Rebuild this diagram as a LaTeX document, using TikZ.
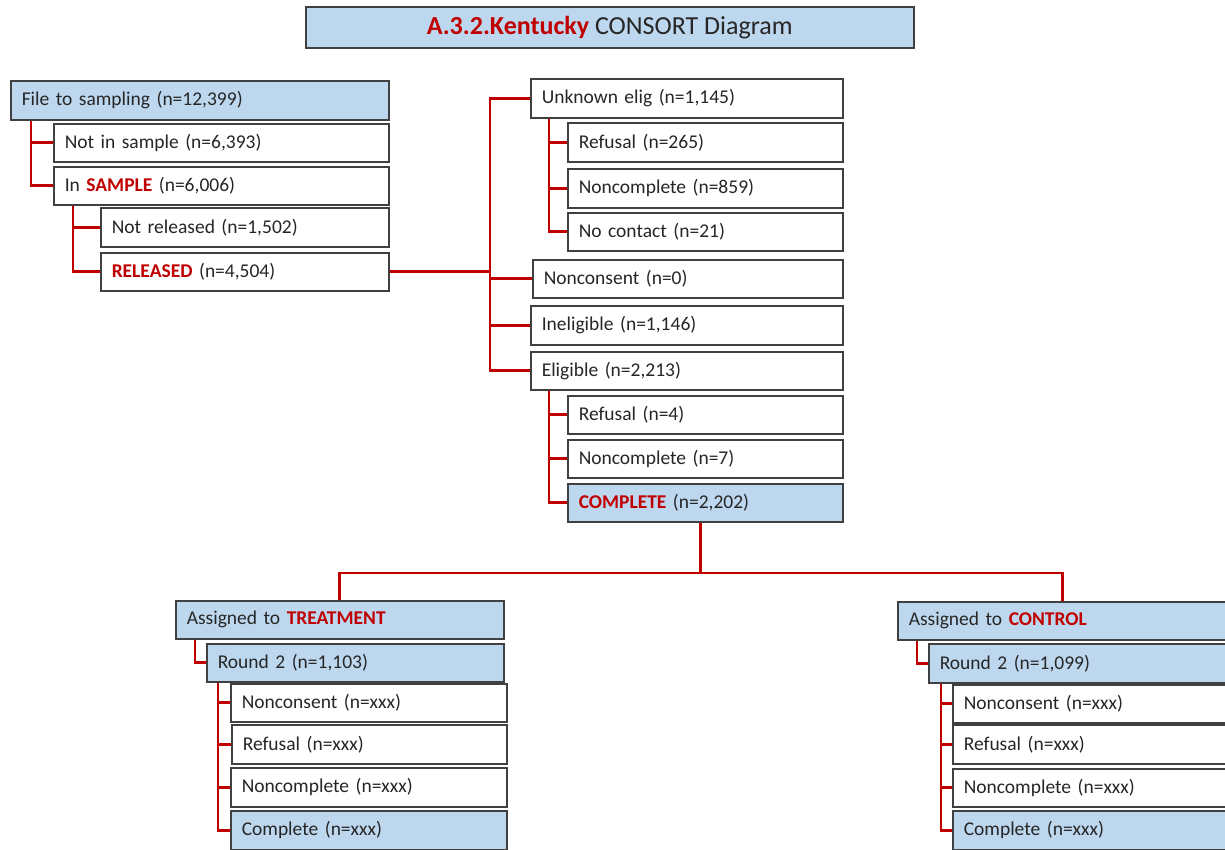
\documentclass[tikz,border=0pt]{standalone}
\usepackage{fontspec}
\setmainfont{Carlito}
\usetikzlibrary{calc}
\definecolor{boxblue}{HTML}{BDD7EE}
\definecolor{darkred}{HTML}{C00000}
\definecolor{edgegray}{HTML}{404040}
\newcommand{\hl}[1]{\textbf{\textcolor{darkred}{#1}}}
\tikzset{
  box/.style={draw=edgegray, line width=1.5pt, fill=white, anchor=north west,
    inner xsep=11pt, inner ysep=0pt, align=left,
    font=\fontsize{19.5}{22}\selectfont, text=black!85},
  bluebox/.style={box, fill=boxblue},
  conn/.style={draw=darkred, line width=2.6pt},
}
\newcommand{\mybox}[7]{%
  \pgfmathsetmacro{\tw}{#5-22}%
  \node[#1, minimum width=#5pt, minimum height=#6pt, text width=\tw pt] (#2) at (#3,#4) {#7};}
\begin{document}
\begin{tikzpicture}[x=1pt,y=-1pt]
\fill[white] (0,0) rectangle (1225,849);
\useasboundingbox (0,0) rectangle (1225,849);
% title
\node[bluebox, minimum width=608pt, minimum height=41pt, align=center,
  font=\fontsize{26}{28}\selectfont] (title) at (305,6)
  {\hl{A.3.2.Kentucky} CONSORT Diagram};
% left column
\mybox{bluebox}{file}{10}{80}{378}{39}{File to sampling (n=12,399)}
\mybox{box}{notin}{53}{123}{335}{38}{Not in sample (n=6,393)}
\mybox{box}{insamp}{53}{166}{335}{38}{In \hl{SAMPLE} (n=6,006)}
\mybox{box}{notrel}{100}{207}{288}{39}{Not released (n=1,502)}
\mybox{box}{rel}{100}{252}{288}{38}{\hl{RELEASED} (n=4,504)}
% middle column
\mybox{box}{unk}{530}{78}{312}{39}{Unknown elig (n=1,145)}
\mybox{box}{ref1}{567}{122}{275}{39}{Refusal (n=265)}
\mybox{box}{ncomp1}{567}{168}{275}{39}{Noncomplete (n=859)}
\mybox{box}{nocont}{567}{212}{275}{38}{No contact (n=21)}
\mybox{box}{noncons}{532}{259}{310}{38}{Nonconsent (n=0)}
\mybox{box}{inel}{530}{305}{312}{39}{Ineligible (n=1,146)}
\mybox{box}{elig}{530}{351}{312}{38}{Eligible (n=2,213)}
\mybox{box}{ref2}{567}{395}{275}{38}{Refusal (n=4)}
\mybox{box}{ncomp2}{567}{439}{275}{38}{Noncomplete (n=7)}
\mybox{bluebox}{compl}{567}{483}{275}{38}{\hl{COMPLETE} (n=2,202)}
% treatment
\mybox{bluebox}{treat}{175}{600}{328}{38}{Assigned to \hl{TREATMENT}}
\mybox{bluebox}{tr2}{206}{643}{297}{38}{Round 2 (n=1,103)}
\mybox{box}{tnc}{230}{683}{276}{38}{Nonconsent (n=xxx)}
\mybox{box}{tref}{231}{724}{275}{39}{Refusal (n=xxx)}
\mybox{box}{tncomp}{230}{767}{276}{39}{Noncomplete (n=xxx)}
\mybox{bluebox}{tcomp}{230}{810}{276}{39}{Complete (n=xxx)}
% control
\mybox{bluebox}{ctrl}{897}{601}{330}{38}{Assigned to \hl{CONTROL}}
\mybox{bluebox}{cr2}{928}{643}{299}{39}{Round 2 (n=1,099)}
\mybox{box}{cnc}{952}{684}{275}{38}{Nonconsent (n=xxx)}
\mybox{box}{cref}{952}{724}{275}{39}{Refusal (n=xxx)}
\mybox{box}{cncomp}{952}{768}{275}{38}{Noncomplete (n=xxx)}
\mybox{bluebox}{ccomp}{952}{810}{275}{39}{Complete (n=xxx)}
% connectors left
\draw[conn] ($(file.south west)+(21,0)$) |- (notin.west);
\draw[conn] ($(file.south west)+(21,0)$) |- (insamp.west);
\draw[conn] ($(insamp.south west)+(20,0)$) |- (notrel.west);
\draw[conn] ($(insamp.south west)+(20,0)$) |- (rel.west);
% spine
\coordinate (sp) at (490,270);
\draw[conn] (rel.east) -- (rel.east -| sp);
\draw[conn] (unk.west) -| (elig.west -| sp) -- (elig.west);
\draw[conn] (noncons.west) -- (noncons.west -| sp);
\draw[conn] (inel.west) -- (inel.west -| sp);
\draw[conn] ($(unk.south west)+(19,0)$) |- (ref1.west);
\draw[conn] ($(unk.south west)+(19,0)$) |- (ncomp1.west);
\draw[conn] ($(unk.south west)+(19,0)$) |- (nocont.west);
\draw[conn] ($(elig.south west)+(19,0)$) |- (ref2.west);
\draw[conn] ($(elig.south west)+(19,0)$) |- (ncomp2.west);
\draw[conn] ($(elig.south west)+(19,0)$) |- (compl.west);
% split
\coordinate (cb) at ($(compl.south)+(-5,0)$);
\coordinate (hy) at (0,573);
\draw[conn] (cb) -- (cb |- hy);
\draw[conn] (treat.north) |- (cb |- hy) -| (ctrl.north);
% treatment connectors
\draw[conn] ($(treat.south west)+(20,0)$) |- (tr2.west);
\draw[conn] ($(tr2.south west)+(12,0)$) |- (tnc.west);
\draw[conn] ($(tr2.south west)+(12,0)$) |- (tref.west);
\draw[conn] ($(tr2.south west)+(12,0)$) |- (tncomp.west);
\draw[conn] ($(tr2.south west)+(12,0)$) |- (tcomp.west);
% control connectors
\draw[conn] ($(ctrl.south west)+(20,0)$) |- (cr2.west);
\draw[conn] ($(cr2.south west)+(13,0)$) |- (cnc.west);
\draw[conn] ($(cr2.south west)+(13,0)$) |- (cref.west);
\draw[conn] ($(cr2.south west)+(13,0)$) |- (cncomp.west);
\draw[conn] ($(cr2.south west)+(13,0)$) |- (ccomp.west);
\end{tikzpicture}
\end{document}
